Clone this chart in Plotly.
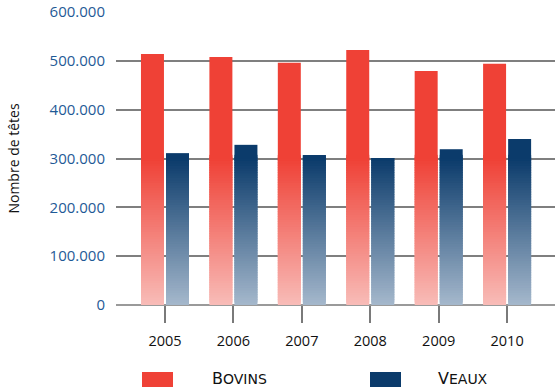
import plotly.graph_objects as go

years = ["2005", "2006", "2007", "2008", "2009", "2010"]
bovins = [514000, 508000, 496000, 522000, 479000, 494000]
veaux = [311000, 328000, 307000, 301000, 319000, 340000]
y_ticks = [0, 100000, 200000, 300000, 400000, 500000, 600000]
y_ticktext = ["0", "100.000", "200.000", "300.000", "400.000", "500.000", "600.000"]

x = list(range(len(years)))

def hex2rgb(h):
    h = h.lstrip("#")
    return [int(h[i:i + 2], 16) for i in (0, 2, 4)]

def mix(c1, c2, t):
    a, b = hex2rgb(c1), hex2rgb(c2)
    return "rgb({},{},{})".format(*[round(a[i] + (b[i] - a[i]) * t) for i in range(3)])

fig = go.Figure()

GRAD_TOP = 300000
N = 60
step = GRAD_TOP / N
OVER = step * 1.5
BAR_W = 0.336

series = [
    (bovins, -0.351, "#F8BCB8", "#EF4136"),
    (veaux, 0.015, "#A5B8CC", "#0B3B6B"),
]

for vals, off, c_bot, c_top in series:
    for k in range(N):
        b = k * step
        h = [max(0, min(v - b, step + OVER)) for v in vals]
        fig.add_trace(go.Bar(
            x=x, y=h, base=[b] * len(vals), width=BAR_W, offset=off,
            marker=dict(color=mix(c_bot, c_top, (k + 0.5) / N), line=dict(width=0)),
            showlegend=False, hoverinfo="skip"))
    h = [max(0, v - GRAD_TOP) for v in vals]
    fig.add_trace(go.Bar(
        x=x, y=h, base=[GRAD_TOP] * len(vals), width=BAR_W, offset=off,
        marker=dict(color=c_top, line=dict(width=0)),
        showlegend=False, hoverinfo="skip"))

fig.update_layout(
    width=555, height=387,
    margin=dict(l=116, r=0, t=12, b=82),
    paper_bgcolor="white", plot_bgcolor="white",
    barmode="overlay",
    xaxis=dict(
        range=[-0.716, 5.70], tickvals=x, ticktext=years,
        showgrid=False, zeroline=False, showline=False,
        ticks="outside", ticklen=17, tickwidth=2, tickcolor="#7a7a7a",
        ticklabelstandoff=6,
        tickfont=dict(family="Open Sans", size=14.5, color="#111111"),
        fixedrange=True,
    ),
    yaxis=dict(
        range=[0, 600000], tickvals=y_ticks, ticktext=y_ticktext,
        showgrid=True, gridcolor="#7f7f7f", gridwidth=1.5,
        zeroline=True, zerolinecolor="#9a9a9a", zerolinewidth=2,
        showline=False, ticks="", ticklabelstandoff=10,
        tickfont=dict(family="Open Sans", size=15, color="#1F5A96"),
        title=dict(text="Nombre de têtes", font=dict(family="Open Sans", size=14, color="#111111"), standoff=26),
    ),
    showlegend=False,
)

# legend drawn manually
fig.add_shape(type="rect", xref="paper", yref="paper",
              x0=(142 - 116) / 439, x1=(173 - 116) / 439,
              y0=(305 - 392) / 293, y1=(305 - 372) / 293,
              fillcolor="#EF4136", line=dict(width=0))
fig.add_shape(type="rect", xref="paper", yref="paper",
              x0=(370 - 116) / 439, x1=(401 - 116) / 439,
              y0=(305 - 392) / 293, y1=(305 - 372) / 293,
              fillcolor="#0B3B6B", line=dict(width=0))
fig.add_annotation(xref="paper", yref="paper", x=(211 - 116) / 439, y=(305 - 389) / 293,
                   xanchor="left", yanchor="bottom", showarrow=False,
                   text="B<span style='font-size:14px'>OVINS</span>", borderpad=0,
                   font=dict(family="DejaVu Sans", size=16, color="#111111"))
fig.add_annotation(xref="paper", yref="paper", x=(437 - 116) / 439, y=(305 - 389) / 293,
                   xanchor="left", yanchor="bottom", showarrow=False,
                   text="V<span style='font-size:14px'>EAUX</span>", borderpad=0,
                   font=dict(family="DejaVu Sans", size=16, color="#111111"))

fig.write_html("out.html")
